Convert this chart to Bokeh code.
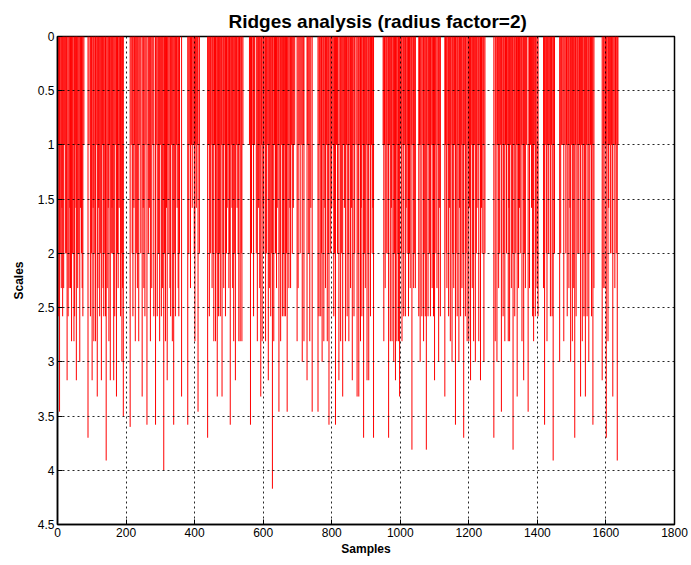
from bokeh.plotting import figure
from bokeh.models import Range1d, FixedTicker, CustomJSTickFormatter, ColumnDataSource
from bokeh.embed import file_html
from bokeh.resources import INLINE

# ---- data: each ridge = (sample position, deepest scale reached) ----
c01_x = [2, 4, 6, 8, 11, 13, 15, 18, 20, 23, 26, 28, 31, 34, 36, 38, 41, 43, 45, 48, 50, 52, 54, 55, 57, 59, 62, 65, 67, 70, 72, 74, 77]
c01_s = [2.58, 1.0, 3.46, 2.0, 2.32, 1.58, 2.58, 2.32, 1.0, 2.0, 2.0, 3.17, 2.58, 2.32, 1.58, 2.32, 2.81, 2.0, 2.0, 2.81, 2.58, 1.0, 1.58, 3.17, 2.0, 2.32, 2.0, 3.0, 1.58, 2.0, 2.32, 2.58, 1.0]

c02_x = [89, 92, 96, 99, 101, 104, 106, 109, 111, 113, 116, 118, 120, 123, 126, 128, 131, 133, 135, 138, 140, 142, 145, 148, 150, 152, 154, 157, 159, 161, 164, 167, 170, 172, 175, 177, 180, 182, 184, 186, 188, 190, 192]
c02_s = [3.7, 1.0, 2.58, 2.0, 3.17, 1.58, 2.81, 2.0, 2.81, 1.0, 3.32, 2.32, 1.58, 2.58, 2.0, 3.17, 1.0, 2.32, 2.58, 2.0, 2.58, 3.91, 2.32, 1.58, 2.81, 1.0, 3.17, 2.0, 1.58, 2.0, 3.17, 2.58, 1.0, 3.32, 2.0, 2.32, 1.58, 1.0, 2.58, 2.0, 3.0, 2.32, 3.5]

c03_x = [212, 215, 218, 220, 223, 225, 227, 230, 233, 237, 240, 243, 247, 250, 252, 255, 258, 261, 265, 268, 271, 275, 278, 281, 286, 288, 291, 295, 298, 300, 303, 306, 310, 312, 315, 318, 320, 322, 325, 328, 330, 333, 335, 339, 342, 344, 347, 349, 352, 354, 356, 362]
c03_s = [3.6, 1.0, 2.0, 2.58, 1.58, 1.0, 2.81, 2.0, 2.32, 2.81, 1.0, 2.0, 3.32, 1.58, 2.32, 2.58, 1.0, 3.58, 2.0, 1.58, 2.81, 2.32, 1.0, 2.58, 3.58, 1.0, 2.58, 2.0, 2.81, 1.0, 2.58, 2.32, 4.0, 2.0, 2.81, 1.58, 3.17, 1.0, 2.0, 2.32, 2.58, 1.0, 2.81, 3.58, 2.0, 2.58, 1.0, 1.58, 2.32, 2.58, 2.0, 3.32]

c04_x = [380, 383, 386, 388, 391, 393, 396, 399, 401, 403, 405, 408, 410, 414]
c04_s = [3.58, 2.0, 1.0, 2.32, 1.0, 1.58, 1.0, 2.0, 2.81, 1.0, 1.58, 1.0, 3.46, 2.0]

c05_x = [438, 440, 443, 446, 448, 451, 453, 456, 458, 461, 463, 466, 468, 470, 473, 475, 478, 480, 483, 485, 488, 490, 493, 495, 498, 500, 502, 504, 507, 509, 511, 514, 517, 519, 522, 524, 527, 529, 531, 533, 536, 538, 541]
c05_s = [3.7, 1.0, 2.58, 2.0, 1.0, 2.32, 2.0, 2.81, 1.0, 2.81, 2.0, 3.32, 1.0, 2.58, 2.0, 2.58, 1.0, 3.32, 2.0, 2.32, 1.0, 2.58, 2.0, 1.58, 1.0, 2.32, 2.0, 3.58, 1.0, 1.58, 2.32, 2.81, 2.0, 3.17, 1.0, 1.58, 2.0, 2.81, 1.0, 2.81, 2.0, 2.81, 1.0]

c06_x = [560, 563, 566, 568, 572, 575, 580, 583, 586, 588, 590, 593, 595, 597, 600, 602, 605, 607, 610, 612, 615, 618, 620, 622, 625, 627, 631, 633, 636, 639, 641, 644, 646, 649, 651, 654, 656, 659, 661, 663, 665, 668, 670, 672, 675, 678, 680, 683, 685, 688, 692]
c06_s = [1.0, 3.58, 2.0, 1.0, 2.58, 1.0, 2.0, 2.81, 1.58, 1.0, 2.32, 3.32, 1.0, 2.81, 1.58, 2.0, 1.0, 2.81, 2.0, 1.0, 3.17, 2.32, 1.0, 2.58, 2.0, 4.17, 2.81, 1.0, 2.0, 2.32, 1.58, 1.0, 3.46, 2.0, 2.81, 1.0, 2.58, 2.0, 2.58, 1.0, 2.58, 2.0, 3.46, 1.0, 2.32, 1.58, 2.32, 1.0, 2.0, 1.58, 1.0]

c07_x = [699, 702, 705, 708, 711, 714, 717, 719, 728, 730, 733, 736, 739, 743]
c07_s = [2.81, 2.32, 1.0, 2.0, 1.0, 3.0, 1.0, 2.81, 3.17, 1.0, 2.0, 2.81, 1.58, 3.46]

c08_x = [760, 763, 765, 768, 770, 772, 775, 777, 780, 782, 785, 787, 790, 792, 795, 797, 800, 803, 806, 808, 811, 814, 817, 821, 824, 826, 829, 832, 835, 837, 840, 843, 845, 848, 850, 853, 855, 858, 860, 862, 865, 867, 871, 874, 877, 879, 882, 884, 886, 888, 891, 893, 896, 898, 901, 903, 906, 908, 911, 913, 916, 918, 920, 922]
c08_s = [3.46, 2.58, 1.0, 2.58, 2.0, 3.0, 1.0, 2.81, 1.58, 2.32, 1.0, 2.81, 2.0, 3.58, 1.0, 2.0, 1.58, 1.0, 2.58, 2.0, 3.58, 1.0, 2.0, 3.17, 1.0, 2.81, 2.0, 3.32, 1.0, 1.58, 2.81, 1.0, 2.58, 2.0, 2.81, 1.0, 2.32, 1.58, 3.17, 1.0, 2.58, 2.0, 1.0, 3.32, 2.0, 3.32, 1.0, 2.81, 1.58, 2.58, 1.0, 3.7, 2.0, 2.32, 1.0, 3.17, 2.0, 3.17, 1.0, 2.58, 1.0, 2.0, 1.58, 3.7]

c09_x = [950, 952, 954, 956, 959, 961, 964, 966, 969, 971, 974, 976, 979, 981, 983, 986, 988, 990, 993, 995, 998, 1000, 1003, 1005, 1008, 1010, 1013, 1015, 1017, 1020, 1022, 1024, 1027, 1029, 1032, 1034, 1037, 1039, 1042, 1044]
c09_s = [1.0, 2.81, 1.0, 2.32, 2.0, 1.0, 2.0, 3.7, 1.0, 2.81, 1.58, 2.81, 1.0, 3.0, 2.0, 3.17, 1.0, 2.81, 2.0, 2.81, 3.32, 1.0, 2.0, 2.81, 1.0, 2.58, 1.0, 2.58, 1.58, 2.0, 1.0, 2.58, 2.0, 2.32, 1.0, 3.81, 1.0, 2.32, 2.0, 2.32]

c10_x = [1054, 1056, 1058, 1060, 1063, 1066, 1068, 1070, 1073, 1076, 1078, 1081, 1083, 1085, 1088, 1090, 1093, 1095, 1097, 1100, 1102, 1104, 1107, 1110, 1112, 1115, 1117]
c10_s = [2.58, 1.0, 3.0, 1.0, 2.58, 1.0, 2.81, 2.0, 2.58, 3.81, 1.0, 2.58, 1.0, 2.0, 2.58, 1.0, 2.32, 1.0, 2.58, 3.17, 1.0, 2.0, 2.32, 1.0, 3.0, 1.58, 2.58]

c11_x = [1130, 1132, 1134, 1136, 1139, 1141, 1144, 1146, 1148, 1151, 1153, 1156, 1158, 1161, 1163, 1166, 1168, 1171, 1173, 1176, 1178, 1180, 1183, 1185, 1188, 1190, 1192, 1195, 1198, 1200, 1202, 1205, 1207, 1210, 1212, 1214, 1217, 1219, 1222, 1224, 1227, 1229, 1232, 1234, 1237, 1239, 1242, 1244, 1247]
c11_s = [3.32, 1.0, 2.0, 2.32, 1.0, 2.58, 1.58, 2.81, 1.0, 3.0, 2.0, 2.32, 1.0, 3.58, 2.0, 2.58, 1.0, 3.0, 1.58, 2.58, 1.0, 2.32, 2.0, 3.7, 1.0, 2.58, 2.0, 2.81, 1.0, 2.81, 1.58, 3.17, 1.0, 2.32, 2.0, 2.81, 1.0, 3.0, 2.0, 1.58, 1.0, 2.81, 1.0, 3.17, 1.58, 2.0, 1.0, 3.0, 2.0]

c12_x = [1273, 1277, 1279, 1282, 1284, 1287, 1290, 1292, 1295, 1297, 1300, 1302, 1305, 1307, 1310, 1312, 1315, 1317, 1319, 1322, 1324, 1327, 1329, 1332, 1334, 1337, 1339, 1341, 1343, 1345, 1348, 1350, 1353, 1355, 1358, 1360, 1362, 1365, 1368]
c12_s = [3.7, 2.81, 1.0, 3.0, 1.0, 2.32, 2.0, 1.0, 3.46, 1.0, 2.58, 2.0, 2.81, 1.0, 2.0, 1.0, 2.81, 1.58, 2.81, 1.0, 2.32, 2.0, 3.81, 1.0, 2.58, 2.0, 1.0, 3.32, 1.0, 2.32, 1.58, 2.0, 1.0, 2.81, 1.0, 3.17, 2.0, 2.32, 1.0]

c13_x = [1373, 1377, 1380, 1383, 1386, 1389, 1391, 1394, 1396, 1399, 1402]
c13_s = [3.46, 2.32, 1.0, 1.58, 2.58, 2.81, 1.0, 2.58, 2.0, 2.32, 2.58]

c14_x = [1418, 1421, 1423, 1426, 1428, 1430, 1433, 1436, 1438, 1441, 1443, 1446, 1448, 1450]
c14_s = [2.32, 3.58, 1.0, 2.0, 2.81, 1.0, 2.0, 1.0, 2.58, 1.0, 2.58, 3.91, 1.0, 2.0]

c15_x = [1465, 1468, 1470, 1474, 1477, 1480, 1483, 1485, 1487, 1490, 1492, 1495, 1497, 1500, 1502, 1504, 1506, 1509, 1511, 1513, 1516, 1518, 1521, 1523, 1526, 1529, 1531, 1533, 1536, 1538, 1540, 1543, 1545, 1548, 1550, 1553, 1555, 1558, 1560, 1562, 1565]
c15_s = [3.0, 2.0, 1.0, 1.0, 2.81, 1.0, 2.0, 1.0, 2.58, 1.0, 2.32, 1.58, 3.0, 1.0, 2.81, 1.0, 2.32, 3.7, 1.0, 2.58, 1.0, 2.0, 2.0, 1.0, 3.32, 1.0, 2.81, 1.0, 2.58, 2.0, 3.32, 1.0, 2.58, 1.0, 3.0, 2.0, 1.0, 2.58, 1.0, 3.58, 2.32]

c16_x = [1589, 1592, 1594, 1597, 1599, 1601, 1603, 1606, 1608, 1610, 1613, 1616, 1618, 1620, 1623, 1626, 1628, 1630, 1633, 1635]
c16_s = [3.17, 2.32, 1.0, 2.32, 1.0, 3.7, 1.0, 2.81, 1.58, 1.0, 2.0, 1.0, 2.0, 3.32, 1.0, 2.32, 1.0, 2.0, 3.91, 1.0]

x_ticks = [0, 200, 400, 600, 800, 1000, 1200, 1400, 1600, 1800]
y_ticks = [0, 0.5, 1, 1.5, 2, 2.5, 3, 3.5, 4, 4.5]

clusters = [
    (c01_x, c01_s), (c02_x, c02_s), (c03_x, c03_s), (c04_x, c04_s),
    (c05_x, c05_s), (c06_x, c06_s), (c07_x, c07_s), (c08_x, c08_s),
    (c09_x, c09_s), (c10_x, c10_s), (c11_x, c11_s), (c12_x, c12_s),
    (c13_x, c13_s), (c14_x, c14_s), (c15_x, c15_s), (c16_x, c16_s),
]
xs, ss = [], []
for cx, cs in clusters:
    if len(cx) != len(cs):
        print("length mismatch", len(cx), len(cs))
    for a, b in zip(cx, cs):
        xs.append(a)
        ss.append(b)

src = ColumnDataSource(dict(x=xs, top=[0.0] * len(xs), s=ss))

FONT = "Liberation Sans"

p = figure(width=691, height=565, output_backend="svg", toolbar_location=None,
           x_range=Range1d(0, 1800), y_range=Range1d(4.5, 0),
           title="Ridges analysis (radius factor=2)",
           min_border_left=57, min_border_right=17, min_border_top=36, min_border_bottom=41)

p.segment(x0="x", y0="top", x1="x", y1="s", source=src, line_color="red", line_width=1)

p.title.text_font = FONT
p.title.text_font_size = "19px"
p.title.text_font_style = "bold"
p.title.align = "left"
p.title.offset = 171
p.title.text_color = "black"

p.xaxis.ticker = FixedTicker(ticks=x_ticks)
p.yaxis.ticker = FixedTicker(ticks=y_ticks)
p.yaxis.formatter = CustomJSTickFormatter(code="return String(Math.round(tick*10)/10);")
p.xaxis.axis_label = "Samples"
p.yaxis.axis_label = "Scales"
for ax in (p.xaxis[0], p.yaxis[0]):
    ax.axis_label_text_font = FONT
    ax.axis_label_text_font_size = "12px"
    ax.axis_label_text_font_style = "bold"
    ax.axis_label_text_color = "black"
    ax.major_label_text_font = FONT
    ax.major_label_text_font_size = "12px"
    ax.major_label_text_color = "black"
    ax.axis_line_color = "black"
    ax.axis_line_width = 1.5
    ax.major_tick_in = 5
    ax.major_tick_out = 0
    ax.minor_tick_line_color = None
    ax.major_label_standoff = 3
    ax.axis_label_standoff = 2
p.yaxis.axis_label_standoff = 9

for g in (p.xgrid[0], p.ygrid[0]):
    g.grid_line_color = "black"
    g.grid_line_dash = "2 3"
    g.grid_line_alpha = 0.85
    g.level = "overlay"
p.xgrid.ticker = FixedTicker(ticks=x_ticks)
p.ygrid.ticker = FixedTicker(ticks=y_ticks)

p.outline_line_color = "black"
p.outline_line_width = 1.5
p.background_fill_color = "white"
p.border_fill_color = "white"

open("out.html", "w").write(file_html(p, INLINE))
